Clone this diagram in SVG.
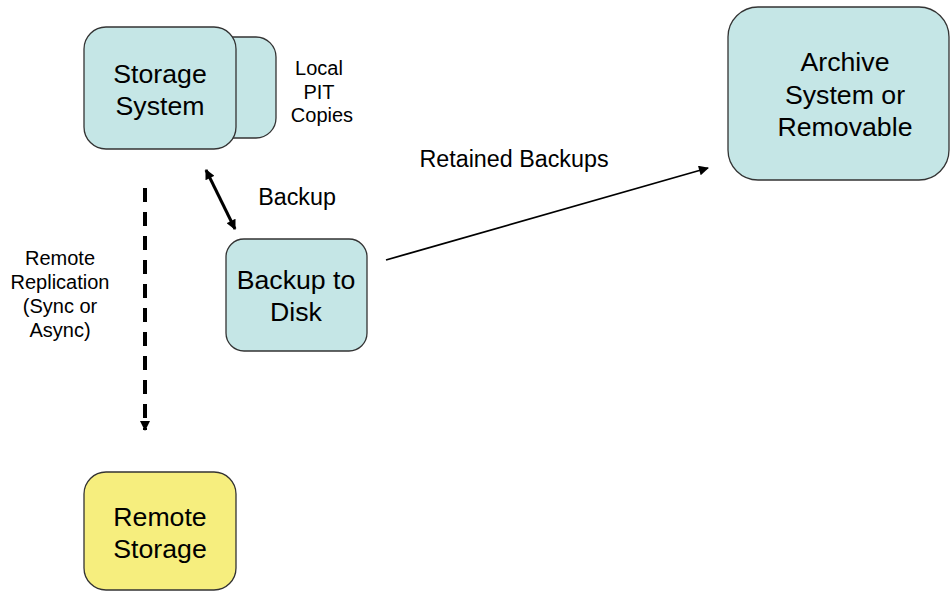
<svg xmlns="http://www.w3.org/2000/svg" width="950" height="591" viewBox="0 0 950 591">
  <style>
    text { font-family: "Liberation Sans", Arial, sans-serif; fill: #000; text-anchor: middle; }
    .box { fill: #c5e6e6; stroke: #333; stroke-width: 1.3; }
    .remote { fill: #f6ee7e; stroke: #333; stroke-width: 1.3; }
    .big { font-size: 26.7px; }
    .small { font-size: 20px; }
    .mid { font-size: 23.3px; }
    .line { stroke: #000; fill: none; }
  </style>
  <defs>
    <marker id="arrowL" viewBox="0 0 10 10" refX="9" refY="5" markerWidth="12" markerHeight="10" orient="auto" markerUnits="userSpaceOnUse">
      <path d="M0,0 L10,5 L0,10 z" fill="#000"/>
    </marker>
    <marker id="arrowT" viewBox="0 0 10 10" refX="9" refY="5" markerWidth="11" markerHeight="10" orient="auto-start-reverse" markerUnits="userSpaceOnUse">
      <path d="M0,0 L10,5 L0,10 z" fill="#000"/>
    </marker>
  </defs>

  <g id="connectors">
    <line class="line" x1="145" y1="188" x2="145" y2="430" stroke-width="4" stroke-dasharray="14 10" marker-end="url(#arrowT)"/>
    <line class="line" x1="206" y1="170" x2="235" y2="229" stroke-width="3" marker-start="url(#arrowT)" marker-end="url(#arrowT)"/>
    <line class="line" x1="386" y1="260" x2="708" y2="168" stroke-width="1.8" marker-end="url(#arrowL)"/>
  </g>

  <g id="storage-system">
    <rect class="box" x="180" y="37" width="96" height="101" rx="20"/>
    <rect class="box" x="84" y="27" width="152" height="122" rx="22"/>
    <text class="big" x="160" y="83">Storage</text>
    <text class="big" x="160" y="115">System</text>
  </g>

  <g id="local-pit-label">
    <text class="small" x="319" y="75">Local</text>
    <text class="small" x="319" y="99">PIT</text>
    <text class="small" x="322" y="122">Copies</text>
  </g>

  <g id="backup-label">
    <text class="mid" x="297" y="205">Backup</text>
  </g>

  <g id="backup-to-disk">
    <rect class="box" x="226" y="239" width="141" height="112" rx="18"/>
    <text class="big" x="296" y="289">Backup to</text>
    <text class="big" x="296" y="321">Disk</text>
  </g>

  <g id="replication-label">
    <text class="small" x="60" y="265">Remote</text>
    <text class="small" x="60" y="289">Replication</text>
    <text class="small" x="60" y="313">(Sync or</text>
    <text class="small" x="60" y="337">Async)</text>
  </g>

  <g id="retained-label">
    <text class="mid" x="514" y="167">Retained Backups</text>
  </g>

  <g id="archive">
    <rect class="box" x="728" y="7" width="221" height="173" rx="30"/>
    <text class="big" x="845" y="71">Archive</text>
    <text class="big" x="845" y="104">System or</text>
    <text class="big" x="845" y="136">Removable</text>
  </g>

  <g id="remote-storage">
    <rect class="remote" x="84" y="472" width="152" height="118" rx="22"/>
    <text class="big" x="160" y="526">Remote</text>
    <text class="big" x="160" y="558">Storage</text>
  </g>
</svg>
